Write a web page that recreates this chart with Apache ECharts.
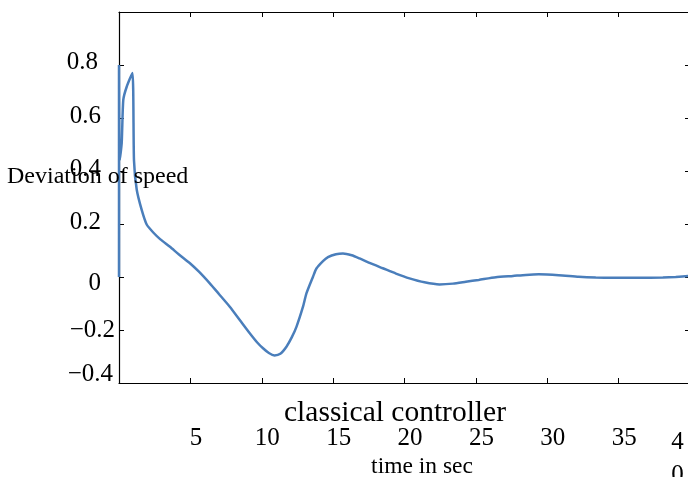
<!DOCTYPE html>
<html>
<head>
<meta charset="utf-8">
<script src="https://cdn.jsdelivr.net/npm/echarts@6/dist/echarts.min.js"></script>
<style>html,body{margin:0;padding:0;background:#fff}#c{width:688px;height:477px}</style>
</head>
<body>
<div id="c"></div>
<script>
// time (s) and speed deviation
const timeSec = [0, 0, 0.05, 0.19, 0.30, 0.54, 0.94, 1.05, 1.24, 1.59, 1.94, 2.4, 2.9, 3.57, 4.2, 4.97, 5.6, 6.36, 7.0, 7.76, 8.5, 9.16, 9.7, 10.09, 10.5, 10.9, 11.3, 11.73, 12.1, 12.43, 12.89, 13.13, 13.59, 13.83, 14.29, 14.64, 15.2, 15.69, 16.3, 16.85, 17.6, 18.48, 19.4, 20.35, 21.4, 22.45, 23.4, 24.3, 25.2, 26.4, 27.6, 28.5, 29.4, 30.8, 32.2, 33.4, 34.6, 36.3, 38.1, 39.0, 40];
const speedDev = [0, 0.8, 0.44, 0.506, 0.668, 0.718, 0.77, 0.44, 0.33, 0.253, 0.198, 0.168, 0.142, 0.114, 0.085, 0.052, 0.020, -0.024, -0.064, -0.112, -0.165, -0.212, -0.248, -0.269, -0.287, -0.296, -0.290, -0.263, -0.228, -0.188, -0.112, -0.062, 0.001, 0.032, 0.060, 0.075, 0.086, 0.089, 0.082, 0.070, 0.052, 0.033, 0.013, -0.005, -0.020, -0.028, -0.025, -0.018, -0.011, -0.001, 0.004, 0.008, 0.010, 0.007, 0.001, -0.002, -0.003, -0.003, -0.002, 0.000, 0.004];
const xTicks = [5, 10, 15, 20, 25, 30, 35, 40];
const yTicks = [0.8, 0.6, 0.4, 0.2, 0, -0.2, -0.4];
const titleText = 'classical controller';
const xName = 'time in sec';
const yName = 'Deviation of speed';

const FONT = '"Liberation Serif", "Times New Roman", serif';
const chart = echarts.init(document.getElementById('c'), null, {renderer: 'canvas'});
const pts = timeSec.map((t, i) => [t, speedDev[i]]);
const fmtNum = v => (v < 0 ? '\u2212' + Math.abs(v) : String(v));
const YF = 25;

chart.setOption({
  animation: false,
  backgroundColor: '#fff',
  grid: {left: 119, top: 12, width: 571, height: 371, containLabel: false, outerBoundsMode: 'none'},
  xAxis: [{
    type: 'value', min: 0, max: 40, interval: 5, position: 'bottom',
    axisLine: {show: true, onZero: false, lineStyle: {color: '#000', width: 1.2}},
    axisTick: {show: true, inside: true, length: 5, lineStyle: {color: '#000'}},
    splitLine: {show: false},
    axisLabel: {
      showMinLabel: false, margin: 43, fontFamily: FONT, fontSize: 25, color: '#000',
      formatter: v => (xTicks.indexOf(v) < 0 ? '' : (v === 40 ? '{e|4}\n{e|0}' : '{n|' + v + '}')),
      rich: {
        n: {fontFamily: FONT, fontSize: 25, color: '#000', padding: [0, 0, 0, 11]},
        e: {fontFamily: FONT, fontSize: 25, color: '#000', lineHeight: 33, padding: [0, 25, 0, 0]}
      }
    }
  }, {
    type: 'value', min: 0, max: 40, interval: 5, position: 'top',
    axisLine: {show: true, onZero: false, lineStyle: {color: '#000', width: 1.2}},
    axisTick: {show: true, inside: true, length: 5, lineStyle: {color: '#000'}},
    axisLabel: {show: false}, splitLine: {show: false}
  }],
  yAxis: [{
    type: 'value', min: -0.4, max: 1.0, interval: 0.2, position: 'left',
    axisLine: {show: true, onZero: false, lineStyle: {color: '#000', width: 1.2}},
    axisTick: {show: true, inside: true, length: 5, lineStyle: {color: '#000'}},
    splitLine: {show: false},
    axisLabel: {
      showMaxLabel: false, margin: 3, fontFamily: FONT, fontSize: YF, color: '#000',
      formatter: v => {
        const r = Math.round(v * 10) / 10;
        if (yTicks.indexOf(r) < 0) return '';
        const s = fmtNum(r);
        if (r === 0.8) return '{p8|' + s + '}';
        if (r === 0) return '{z|' + s + '}';
        if (r === -0.4) return '{lo|' + s + '}';
        if (r < 0) return '{n|' + s + '}';
        return '{p|' + s + '}';
      },
      rich: {
        p8: {fontFamily: FONT, fontSize: YF, color: '#000', padding: [0, 18, 6, 0]},
        p: {fontFamily: FONT, fontSize: YF, color: '#000', padding: [0, 15, 3, 0]},
        z: {fontFamily: FONT, fontSize: YF, color: '#000', padding: [12, 15, 0, 0]},
        n: {fontFamily: FONT, fontSize: YF, color: '#000', padding: [0, 1, 0, 0]},
        lo: {fontFamily: FONT, fontSize: YF, color: '#000', padding: [0, 3, 18, 0]}
      }
    }
  }, {
    type: 'value', min: -0.4, max: 1.0, interval: 0.2, position: 'right',
    axisLine: {show: true, onZero: false, lineStyle: {color: '#000', width: 1.2}},
    axisTick: {show: true, inside: true, length: 5, lineStyle: {color: '#000'}},
    axisLabel: {show: false}, splitLine: {show: false}
  }],
  series: [{
    type: 'line', data: pts, showSymbol: false, smooth: 0.2,
    lineStyle: {color: '#4a7ebb', width: 2.5}, xAxisIndex: 0, yAxisIndex: 0
  }],
  graphic: [
    {type: 'text', left: 7, top: 165, z: 100, style: {text: yName, font: '24px ' + FONT, fill: '#000'}},
    {type: 'text', x: 395, y: 413, z: 100, style: {text: titleText, font: '29.5px ' + FONT, fill: '#000', textAlign: 'center', textVerticalAlign: 'middle'}},
    {type: 'text', x: 422, y: 467, z: 100, style: {text: xName, font: '23.5px ' + FONT, fill: '#000', textAlign: 'center', textVerticalAlign: 'middle'}}
  ]
});
</script>
</body>
</html>
